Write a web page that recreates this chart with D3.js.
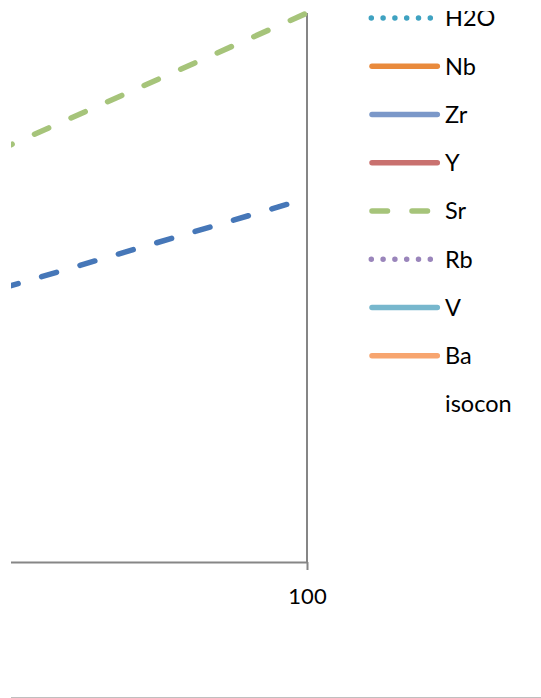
<!DOCTYPE html>
<html>
<head>
<meta charset="utf-8">
<script src="https://cdn.jsdelivr.net/npm/d3@7"></script>
<style>
  html, body { margin: 0; padding: 0; background: #fff; }
  svg { display: block; }
</style>
</head>
<body>
<script>
// Isocon lines: each runs from the origin to its value at x = 100
const lineNames  = ["ref", "Sr"];
const lineEndX   = [100, 100];
const lineEndY   = [29.4, 44.4];
const lineColors = ["#4677b8", "#a6c47a"];
const lineDashOffset = [18.85, 37.25];

// Legend entries
const legendNames  = ["H2O", "Nb", "Zr", "Y", "Sr", "Rb", "V", "Ba", "isocon"];
const legendColors = ["#3fa2c1", "#e98a3c", "#7b98c9", "#c9716f", "#a6c47a", "#9a85bb", "#77b7cd", "#f7a56f", null];
const legendStyles = ["dot", "solid", "solid", "solid", "dash", "dot", "solid", "solid", "none"];

// Axis ticks
const xTickValues = [100];
const xDomain = [0, 100];
const yDomain = [0, 44.4];

const W = 541, H = 698;
const FONT = "Lato, 'Open Sans', sans-serif";
const AXIS_COLOR = "#868686";
const STROKE_W = 5.5;
const DASH = "15.5 24.5";
const DOT = "0 11.8";

const svg = d3.select("body").append("svg")
  .attr("width", W).attr("height", H);

svg.append("defs").append("clipPath").attr("id", "view")
  .append("rect").attr("x", 11).attr("y", 11).attr("width", W - 11).attr("height", H - 11);

const root = svg.append("g").attr("clip-path", "url(#view)");

const x = d3.scaleLinear().domain(xDomain).range([-927, 307]);
const y = d3.scaleLinear().domain(yDomain).range([562, 13]);

// Vertical axis line at x = 100
root.append("line")
  .attr("x1", x(100)).attr("x2", x(100))
  .attr("y1", y(yDomain[1])).attr("y2", y(0))
  .attr("stroke", AXIS_COLOR).attr("stroke-width", 2);

// Horizontal axis
const xAxis = d3.axisBottom(x)
  .tickValues(xTickValues)
  .tickSize(8)
  .tickSizeOuter(0)
  .tickPadding(18)
  .tickFormat(d3.format("d"));

const gx = root.append("g")
  .attr("transform", `translate(0,${y(0)})`)
  .call(xAxis);
gx.select(".domain").attr("stroke", AXIS_COLOR).attr("stroke-width", 2);
gx.selectAll(".tick line").attr("stroke", AXIS_COLOR).attr("stroke-width", 2);
gx.selectAll(".tick text")
  .attr("fill", "#000")
  .style("font-family", FONT)
  .style("font-size", "22px");

// Data lines, drawn from the x = 100 end toward the origin
const line = d3.line().x(d => x(d[0])).y(d => y(d[1]));
lineNames.forEach((name, i) => {
  root.append("path")
    .attr("class", "series " + name)
    .attr("d", line([[lineEndX[i], lineEndY[i]], [0, 0]]))
    .attr("fill", "none")
    .attr("stroke", lineColors[i])
    .attr("stroke-width", STROKE_W)
    .attr("stroke-linecap", "round")
    .attr("stroke-dasharray", DASH)
    .attr("stroke-dashoffset", lineDashOffset[i]);
});

// Legend
const legendY = d3.scalePoint().domain(legendNames).range([18, 404]);
const lg = root.append("g").attr("class", "legend");
legendNames.forEach((name, i) => {
  const cy = legendY(name);
  const style = legendStyles[i];
  if (style !== "none") {
    const p = lg.append("line")
      .attr("x1", style === "dot" ? 371.3 : 372).attr("x2", 437.3)
      .attr("y1", cy).attr("y2", cy)
      .attr("stroke", legendColors[i])
      .attr("stroke-width", STROKE_W)
      .attr("stroke-linecap", "round");
    if (style === "dash") p.attr("stroke-dasharray", DASH);
    if (style === "dot") p.attr("stroke-dasharray", DOT);
  }
  lg.append("text")
    .attr("x", 445)
    .attr("y", cy)
    .attr("dy", "0.36em")
    .attr("fill", "#000")
    .style("font-family", FONT)
    .style("font-size", "23.5px")
    .text(name);
});

// Outer border along the bottom edge
root.append("line")
  .attr("x1", 11).attr("x2", W)
  .attr("y1", 697.5).attr("y2", 697.5)
  .attr("stroke", "#bfbfbf").attr("stroke-width", 1);
</script>
</body>
</html>
